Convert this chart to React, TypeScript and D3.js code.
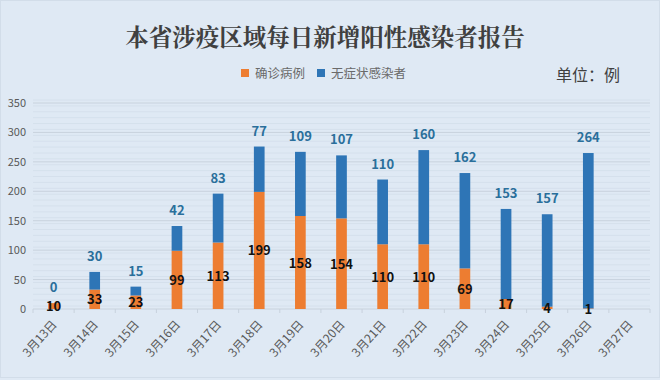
import React from "react";
import * as d3 from "d3";

const categories = ["3月13日","3月14日","3月15日","3月16日","3月17日","3月18日","3月19日","3月20日","3月21日","3月22日","3月23日","3月24日","3月25日","3月26日","3月27日"];
const confirmed: (number | null)[] = [10,33,23,99,113,199,158,154,110,110,69,17,4,1,null];
const asymptomatic: (number | null)[] = [0,30,15,42,83,77,109,107,110,160,162,153,157,264,null];
const yTicks = [0,50,100,150,200,250,300,350];
const minorTicks = d3.range(0, 351, 10);

const W = 660, H = 380;
const left = 33, right = 650, top = 103, bottom = 309;
const ORANGE = "#ed7d31", BLUE = "#2e75b6";
const FONT = "'Noto Sans CJK SC', 'Noto Sans', sans-serif";

export default function App() {
  const x = d3.scaleBand<string>().domain(categories).range([left, right]).paddingInner(0.74).paddingOuter(0.37);
  const xb = d3.scaleBand<string>().domain(categories).range([left, right]);
  const y = d3.scaleLinear().domain([0, 350]).range([bottom, top]);
  const bw = x.bandwidth();
  return (
    <svg width={W} height={H} style={{ position: "absolute", left: 0, top: 0, background: "#dfe9f4" }} fontFamily={FONT}>
      <rect x={0} y={0} width={W} height={H} fill="#dfe9f4" />
      <rect x={0.5} y={0.5} width={W - 1} height={H - 3} fill="none" stroke="#d2dde9" />
      <text x={325} y={46} textAnchor="middle" fontSize={23.5} fontWeight={700} fill="#404040" fontFamily="'Noto Serif CJK SC', 'Noto Sans CJK SC', serif">本省涉疫区域每日新增阳性感染者报告</text>
      {/* legend */}
      <rect x={241} y={69} width={8} height={8} fill={ORANGE} />
      <text x={255} y={77.5} fontSize={12.5} fill="#6a6a6a">确诊病例</text>
      <rect x={317} y={69} width={8} height={8} fill={BLUE} />
      <text x={331} y={77.5} fontSize={12.5} fill="#6a6a6a">无症状感染者</text>
      <text x={556} y={81} fontSize={16} fill="#404040">单位：例</text>
      {/* minor gridlines */}
      {minorTicks.map((t) => (
        <line key={"m" + t} x1={left} x2={right} y1={y(t) - 3} y2={y(t) - 3} stroke="#d5e0ec" strokeWidth={1} />
      ))}
      {yTicks.map((t) => (
        <g key={t}>
          <line x1={left} x2={right} y1={y(t)} y2={y(t)} stroke="#c8d2dd" strokeWidth={1} />
          <text x={26} y={y(t) + 4} textAnchor="end" fontSize={11} fill="#595959">{t}</text>
        </g>
      ))}
      {/* x ticks */}
      {categories.map((c) => (
        <line key={"t" + c} x1={xb(c)!} x2={xb(c)!} y1={bottom} y2={bottom + 4} stroke="#c8d2dd" />
      ))}
      <line x1={right} x2={right} y1={bottom} y2={bottom + 4} stroke="#c8d2dd" />
      {/* bars */}
      {categories.map((c, i) => {
        const cv = confirmed[i], av = asymptomatic[i];
        if (cv == null || av == null) return null;
        const bx = x(c)!;
        const cx = bx + bw / 2;
        return (
          <g key={c}>
            <rect x={bx} y={y(cv)} width={bw} height={y(0) - y(cv)} fill={ORANGE} />
            <rect x={bx} y={y(cv + av)} width={bw} height={y(cv) - y(cv + av)} fill={BLUE} />
            <text x={cx} y={y(cv + av) - 11} textAnchor="middle" fontSize={13} fontWeight={700} fill="#2a6f9b">{av}</text>
            <text x={cx} y={(y(cv) + y(0)) / 2 + 5} textAnchor="middle" fontSize={13} fontWeight={700} fill="#111">{cv}</text>
          </g>
        );
      })}
      {/* x labels */}
      {categories.map((c) => {
        const cx = x(c)! + bw / 2 + 4;
        return (
          <text key={"l" + c} transform={`translate(${cx},${bottom + 16}) rotate(-48)`} textAnchor="end" fontSize={12} fill="#595959">{c}</text>
        );
      })}
    </svg>
  );
}
